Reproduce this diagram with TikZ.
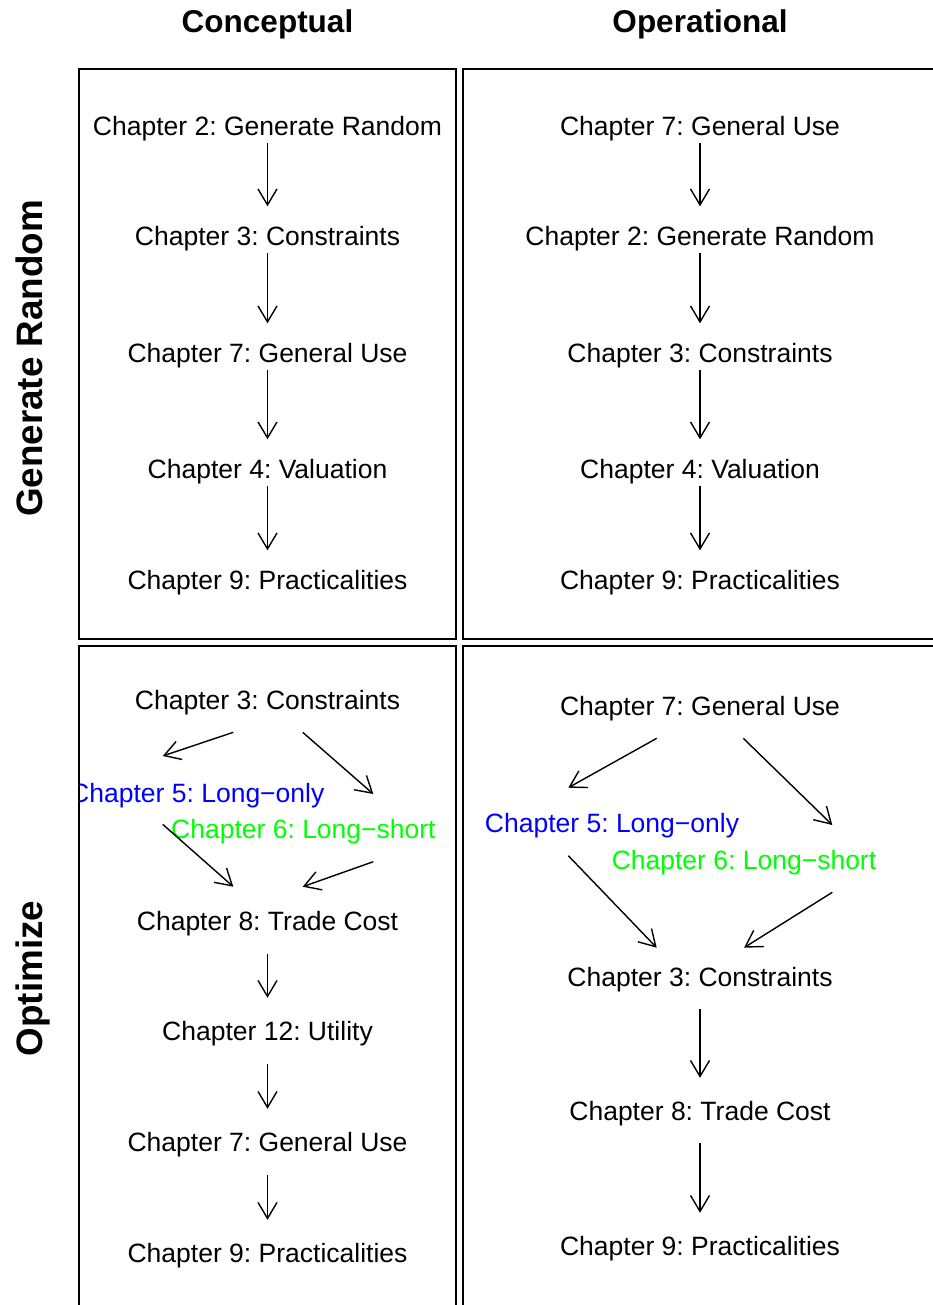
\documentclass[tikz,border=0pt]{standalone}
\usepackage{fontspec}
\setmainfont{Liberation Sans}
\usepackage{xcolor}
\usetikzlibrary{arrows.meta}
\definecolor{rblue}{RGB}{0,0,255}
\definecolor{rgreen}{RGB}{0,255,0}
\frenchspacing
\tikzset{
chap/.style={inner sep=0pt,text height=19pt,text depth=0pt,font=\fontsize{26.5}{30}\selectfont},
head/.style={inner sep=0pt,text height=23pt,text depth=0pt,font=\fontsize{31.5}{36}\selectfont\bfseries},
side/.style={inner sep=0pt,text height=26.5pt,text depth=0pt,rotate=90,font=\fontsize{36.8}{42}\selectfont\bfseries},
arr/.style={-{Straight Barb[length=16pt,width=19pt]},line width=1.4pt},
panel/.style={line width=1.4pt}
}
\begin{document}
\begin{tikzpicture}[x=1pt,y=-1pt]
\useasboundingbox (0,0) rectangle (933,1305);
\clip (0,0) rectangle (933,1305);
\node[head] (hcon) at (267.5,21.5) {Conceptual};
\node[head] (hop) at (700,21.5) {Operational};
\node[side] (sgen) at (29,358.5) {Generate Random};
\node[side] (sopt) at (29,978.5) {Optimize};
\draw[panel](79,69)rectangle(456,639)
(463,69)rectangle(945,639)
(79,646)rectangle(456,1320)
(463,646)rectangle(945,1320);
% top left
\node[chap] (tl1) at (267.5,126) {Chapter 2: Generate Random};
\node[chap] (tl2) at (267.5,236) {Chapter 3: Constraints};
\node[chap] (tl3) at (267.5,353) {Chapter 7: General Use};
\node[chap] (tl4) at (267.5,469) {Chapter 4: Valuation};
\node[chap] (tl5) at (267.5,580) {Chapter 9: Practicalities};
% top right
\node[chap] (tr1) at (700,126) {Chapter 7: General Use};
\node[chap] (tr2) at (700,236) {Chapter 2: Generate Random};
\node[chap] (tr3) at (700,353) {Chapter 3: Constraints};
\node[chap] (tr4) at (700,469) {Chapter 4: Valuation};
\node[chap] (tr5) at (700,580) {Chapter 9: Practicalities};
\foreach \a/\b in {tl1/tl2,tl2/tl3,tl3/tl4,tl4/tl5,tr1/tr2,tr2/tr3,tr3/tr4,tr4/tr5}
\draw[arr,shorten <=7.5pt,shorten >=20pt](\a)--(\b);
% bottom left
\begin{scope}
\clip (79,646) rectangle (456,1305);
\node[chap] (bl1) at (267.5,700) {Chapter 3: Constraints};
\node[chap,text=rblue] (bl5) at (197.3,792.5) {Chapter 5: Long−only};
\node[chap,text=rgreen] (bl6) at (303.4,828.7) {Chapter 6: Long−short};
\node[chap] (bl2) at (267.5,921) {Chapter 8: Trade Cost};
\node[chap] (bl3) at (267.5,1031) {Chapter 12: Utility};
\node[chap] (bl4) at (267.5,1142) {Chapter 7: General Use};
\node[chap] (bl7) at (267.5,1253) {Chapter 9: Practicalities};
\end{scope}
\coordinate (bla) at (233.3,732.3); \coordinate (blb) at (162.7,756);
\coordinate (blc) at (302.7,732.3); \coordinate (bld) at (373.3,794);
\coordinate (ble) at (162.7,824.3); \coordinate (blf) at (233.3,886.7);
\coordinate (blg) at (373.3,861.7); \coordinate (blh) at (302.7,886.7);
\draw[arr](bla)--(blb);
\draw[arr](blc)--(bld);
\draw[arr](ble)--(blf);
\draw[arr](blg)--(blh);
\foreach \a/\b in {bl2/bl3,bl3/bl4,bl4/bl7}
\draw[arr,shorten <=23.5pt,shorten >=23.5pt](\a)--(\b);
% bottom right
\node[chap] (br1) at (700,706) {Chapter 7: General Use};
\node[chap,text=rblue] (br5) at (612,823) {Chapter 5: Long−only};
\node[chap,text=rgreen] (br6) at (744,859.5) {Chapter 6: Long−short};
\node[chap] (br2) at (700,977) {Chapter 3: Constraints};
\node[chap] (br3) at (700,1111) {Chapter 8: Trade Cost};
\node[chap] (br4) at (700,1246) {Chapter 9: Practicalities};
\coordinate (bra) at (656.7,738.3); \coordinate (brb) at (568.3,787.7);
\coordinate (brc) at (743.3,738.3); \coordinate (brd) at (832.3,825);
\coordinate (bre) at (568.3,855.7); \coordinate (brf) at (656.7,947.7);
\coordinate (brg) at (832.3,892.3); \coordinate (brh) at (744,947.7);
\draw[arr](bra)--(brb);
\draw[arr](brc)--(brd);
\draw[arr](bre)--(brf);
\draw[arr](brg)--(brh);
\foreach \a/\b in {br2/br3,br3/br4}
\draw[arr,shorten <=22.5pt,shorten >=23.5pt](\a)--(\b);
\end{tikzpicture}
\end{document}
